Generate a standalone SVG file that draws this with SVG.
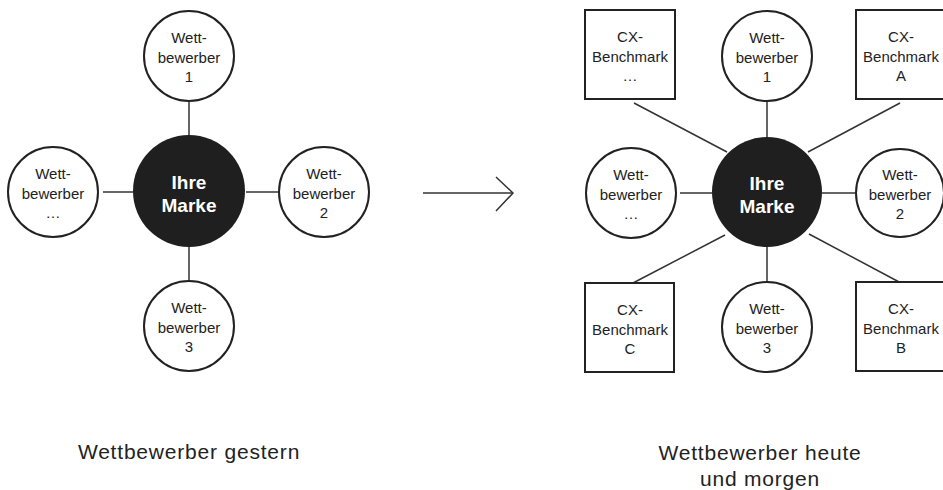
<svg xmlns="http://www.w3.org/2000/svg" width="943" height="490" viewBox="0 0 943 490">
<style>
  .sat { fill: #fff; stroke: #222; stroke-width: 2; }
  .hub { fill: #1f1f1f; }
  .box { fill: #fff; stroke: #222; stroke-width: 2; }
  .t { font-family: "Liberation Sans", Arial, sans-serif; font-size: 15px; fill: #222; text-anchor: middle; }
  .h { font-family: "Liberation Sans", Arial, sans-serif; font-size: 19px; font-weight: bold; fill: #fff; text-anchor: middle; }
  .lbl { font-family: "Liberation Sans", Arial, sans-serif; font-size: 21px; letter-spacing: 0.8px; fill: #222; text-anchor: middle; }
  .c line, .c polyline { stroke: #333; stroke-width: 1.5; fill: none; }
</style>
<rect width="943" height="490" fill="#fff"/>

<g class="c" id="connectors">
  <line x1="189" y1="101" x2="189" y2="135"/>
  <line x1="189" y1="247" x2="189" y2="281"/>
  <line x1="103" y1="192" x2="133" y2="192"/>
  <line x1="246" y1="192" x2="278" y2="192"/>

  <line x1="767" y1="101" x2="767" y2="137"/>
  <line x1="767" y1="247" x2="767" y2="282"/>
  <line x1="680" y1="193" x2="712" y2="193"/>
  <line x1="822" y1="193" x2="855" y2="193"/>
  <line x1="634" y1="103" x2="727" y2="152"/>
  <line x1="900" y1="103" x2="808" y2="152"/>
  <line x1="633" y1="283" x2="725" y2="235"/>
  <line x1="901" y1="283" x2="809" y2="234"/>

  <line x1="423" y1="193" x2="513" y2="193"/>
  <polyline points="496,177 513,193 496,211"/>
</g>

<g id="left-hub"><circle class="hub" cx="189" cy="191" r="56"/>
  <text class="h" x="189" y="189">Ihre</text><text class="h" x="189" y="212">Marke</text></g>
<g id="left-w1"><circle class="sat" cx="189" cy="56" r="45"/>
  <text class="t" x="189" y="43">Wett-</text><text class="t" x="189" y="63">bewerber</text><text class="t" x="189" y="82">1</text></g>
<g id="left-w3"><circle class="sat" cx="189" cy="326" r="45"/>
  <text class="t" x="189" y="313">Wett-</text><text class="t" x="189" y="333">bewerber</text><text class="t" x="189" y="352">3</text></g>
<g id="left-wx"><circle class="sat" cx="53" cy="192" r="45"/>
  <text class="t" x="53" y="179">Wett-</text><text class="t" x="53" y="199">bewerber</text><text class="t" x="53" y="218">…</text></g>
<g id="left-w2"><circle class="sat" cx="324" cy="192" r="45"/>
  <text class="t" x="324" y="179">Wett-</text><text class="t" x="324" y="199">bewerber</text><text class="t" x="324" y="218">2</text></g>

<g id="right-hub"><circle class="hub" cx="767" cy="192" r="55"/>
  <text class="h" x="767" y="190">Ihre</text><text class="h" x="767" y="213">Marke</text></g>
<g id="right-w1"><circle class="sat" cx="767" cy="56" r="45"/>
  <text class="t" x="767" y="43">Wett-</text><text class="t" x="767" y="63">bewerber</text><text class="t" x="767" y="82">1</text></g>
<g id="right-w3"><circle class="sat" cx="767" cy="327" r="45"/>
  <text class="t" x="767" y="314">Wett-</text><text class="t" x="767" y="334">bewerber</text><text class="t" x="767" y="353">3</text></g>
<g id="right-wx"><circle class="sat" cx="631" cy="193" r="45"/>
  <text class="t" x="631" y="180">Wett-</text><text class="t" x="631" y="200">bewerber</text><text class="t" x="631" y="219">…</text></g>
<g id="right-w2"><circle class="sat" cx="900" cy="193" r="44"/>
  <text class="t" x="900" y="180">Wett-</text><text class="t" x="900" y="200">bewerber</text><text class="t" x="900" y="219">2</text></g>

<g id="cx-x"><rect class="box" x="585" y="10" width="90" height="89"/>
  <text class="t" x="630" y="42">CX-</text><text class="t" x="630" y="62">Benchmark</text><text class="t" x="630" y="81">…</text></g>
<g id="cx-a"><rect class="box" x="856" y="10" width="90" height="89"/>
  <text class="t" x="901" y="42">CX-</text><text class="t" x="901" y="62">Benchmark</text><text class="t" x="901" y="81">A</text></g>
<g id="cx-c"><rect class="box" x="585" y="283" width="89" height="89"/>
  <text class="t" x="630" y="315">CX-</text><text class="t" x="630" y="335">Benchmark</text><text class="t" x="630" y="354">C</text></g>
<g id="cx-b"><rect class="box" x="856" y="282" width="90" height="89"/>
  <text class="t" x="901" y="314">CX-</text><text class="t" x="901" y="334">Benchmark</text><text class="t" x="901" y="353">B</text></g>

<text class="lbl" x="189" y="459">Wettbewerber gestern</text>
<text class="lbl" x="760" y="460">Wettbewerber heute</text>
<text class="lbl" x="760" y="486">und morgen</text>
</svg>
